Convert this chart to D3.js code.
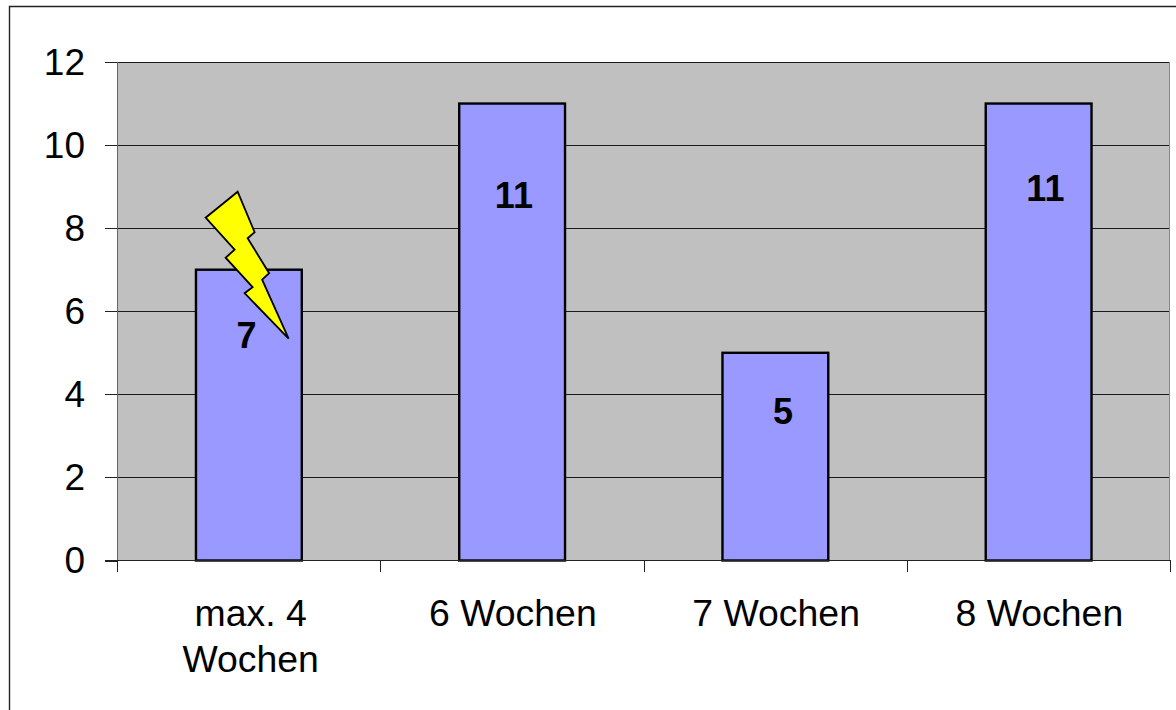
<!DOCTYPE html>
<html>
<head>
<meta charset="utf-8">
<script src="https://cdn.jsdelivr.net/npm/d3@7"></script>
<style>
html,body{margin:0;padding:0;background:#fff}
svg{display:block}
text{font-family:"Liberation Sans",Arial,sans-serif;fill:#000}
</style>
</head>
<body>
<svg id="c" width="1176" height="710"></svg>
<script>
const categories = [["max. 4","Wochen"],["6 Wochen"],["7 Wochen"],["8 Wochen"]];
const values = [7,11,5,11];
const yTicks = [0,2,4,6,8,10,12];
// Hand-placed data labels: offset from the bar's centre / top
const labelDx = [-2,2,8,7];
const labelDy = [66,92,59,85];
// Lightning-bolt callout outline, relative to the centre-top of the first bar
const boltShape = [[-11,-78],[6,-37.5],[-1,-31.5],[20.5,3.5],[13.5,10],[40,69],[-4,23.5],[4,17.5],[-23,-12],[-14,-20],[-43,-52]];

const W=1176,H=710;
const plot={l:117,r:1170,t:62,b:560.5};
const svg=d3.select("#c");

svg.append("path").attr("d",`M9.5,${H}V6.5H${W}`).attr("fill","none").attr("stroke","#222").attr("stroke-width",1.4);

const x=d3.scaleBand().domain(d3.range(categories.length)).range([plot.l,plot.r]).paddingInner(0.6).paddingOuter(0.3);
const y=d3.scaleLinear().domain([0,12]).range([plot.b,plot.t]);

svg.append("rect").attr("x",plot.l).attr("y",plot.t).attr("width",plot.r-plot.l).attr("height",plot.b-plot.t).attr("fill","#c0c0c0");

svg.append("g").selectAll("line").data(yTicks.filter(d=>d>0)).join("line")
  .attr("x1",plot.l).attr("x2",plot.r).attr("y1",d=>Math.round(y(d))+.5).attr("y2",d=>Math.round(y(d))+.5)
  .attr("stroke","#1a1a1a").attr("stroke-width",1);

// axis frame lines
svg.append("line").attr("x1",plot.l+.5).attr("x2",plot.l+.5).attr("y1",plot.t).attr("y2",plot.b).attr("stroke","#666").attr("stroke-width",1);
svg.append("line").attr("x1",plot.r-.5).attr("x2",plot.r-.5).attr("y1",plot.t).attr("y2",plot.b).attr("stroke","#888").attr("stroke-width",1);

// bars
svg.append("g").selectAll("rect").data(values).join("rect")
  .attr("x",(d,i)=>x(i)).attr("width",x.bandwidth()+.5)
  .attr("y",d=>y(d)).attr("height",d=>y(0)-y(d))
  .attr("fill","#9999ff").attr("stroke","#000").attr("stroke-width",2.4);

// x axis line and ticks
const step=x.step();
const xTicks=d3.range(categories.length+1).map(i=>plot.l+i*step);
svg.append("line").attr("x1",105).attr("x2",plot.r).attr("y1",560.5).attr("y2",560.5).attr("stroke","#222").attr("stroke-width",1.2);
svg.append("g").selectAll("line").data(xTicks).join("line")
  .attr("x1",d=>Math.round(d)+.5).attr("x2",d=>Math.round(d)+.5).attr("y1",560).attr("y2",572)
  .attr("stroke","#222").attr("stroke-width",1);

// y ticks
svg.append("g").selectAll("line").data(yTicks).join("line")
  .attr("x1",105).attr("x2",plot.l).attr("y1",d=>Math.round(y(d))+.5).attr("y2",d=>Math.round(y(d))+.5)
  .attr("stroke","#222").attr("stroke-width",1);

svg.append("g").selectAll("text").data(yTicks).join("text")
  .attr("x",85).attr("y",d=>y(d)+12.5).attr("text-anchor","end").attr("font-size",37).text(d=>d);

// category labels
categories.forEach((lines,i)=>{
  lines.forEach((t,j)=>{
    svg.append("text").attr("x",x(i)+x.bandwidth()/2+(i==0?2:1)).attr("y",626+j*46)
      .attr("text-anchor","middle").attr("font-size",37.4).text(t);
  });
});

// value labels
svg.append("g").selectAll("text").data(values).join("text")
  .attr("x",(d,i)=>x(i)+x.bandwidth()/2+labelDx[i]).attr("y",(d,i)=>y(d)+labelDy[i]+12)
  .attr("text-anchor","middle").attr("font-size",36).attr("font-weight","bold").text(d=>d);

// lightning bolt
const ax=x(0)+x.bandwidth()/2, ay=y(values[0]);
svg.append("polygon").attr("points",boltShape.map(p=>[ax+p[0],ay+p[1]].join(",")).join(" "))
  .attr("fill","#ffff00").attr("stroke","#000").attr("stroke-width",1.8).attr("stroke-linejoin","miter");
</script>
</body>
</html>
